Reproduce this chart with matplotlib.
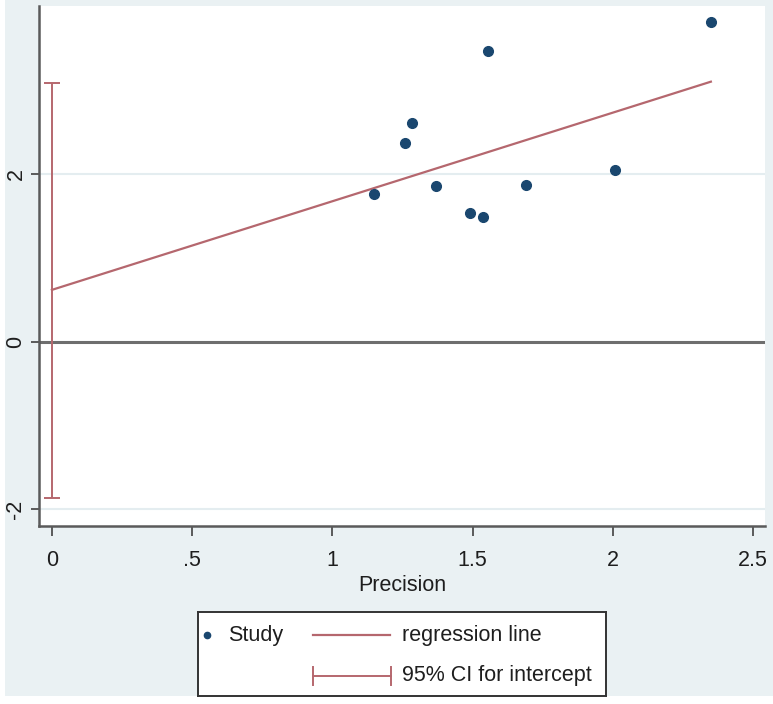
import matplotlib.pyplot as plt
from matplotlib.patches import Rectangle

# Egger's test: standardized effect vs precision
precision = [1.148, 1.259, 1.284, 1.369, 1.490, 1.537, 1.555, 1.690, 2.008, 2.350]
std_effect = [1.77, 2.37, 2.61, 1.86, 1.54, 1.49, 3.47, 1.87, 2.05, 3.82]

intercept = 0.62
slope = 1.058
ci_low, ci_high = -1.86, 3.09

x_ticks = [0, 0.5, 1, 1.5, 2, 2.5]
x_labels = ['0', '.5', '1', '1.5', '2', '2.5']
y_ticks = [-2, 0, 2]
y_labels = ['-2', '0', '2']

navy = '#1A476F'
maroon = '#B5676E'
bg = '#EAF1F3'
axis_col = '#5a5a5a'
txt_col = '#1e1e1e'
fs = 15.5

plt.rcParams['font.family'] = ['Liberation Sans', 'DejaVu Sans']

W, H = 773, 704
fig = plt.figure(figsize=(W / 100, H / 100), dpi=100, facecolor=bg)

# white margins at the left and bottom edge of the picture
fig.patches.append(Rectangle((0, 0), 5 / W, 1, transform=fig.transFigure,
                             facecolor='white', edgecolor='none', zorder=-5))
fig.patches.append(Rectangle((0, 0), 1, 8 / H, transform=fig.transFigure,
                             facecolor='white', edgecolor='none', zorder=-5))

ax = fig.add_axes([39 / W, 1 - 526 / H, (765 - 39) / W, (526 - 6) / H])
ax.set_facecolor('white')

ax.set_xlim(-0.046, 2.543)
ax.set_ylim(-2.20, 4.01)

# faint grid and zero line
for yv in y_ticks:
    ax.axhline(yv, color='#E4EDF0', lw=1.5, zorder=1)
ax.axhline(0, color='#6e6e6e', lw=2.2, zorder=2)

# regression line
xs = [0, max(precision)]
ax.plot(xs, [intercept + slope * v for v in xs], color=maroon, lw=1.6, zorder=3)

# CI for intercept
ax.errorbar([0], [(ci_low + ci_high) / 2], yerr=[[(ci_high - ci_low) / 2]],
            fmt='none', ecolor=maroon, elinewidth=1.4, capsize=6, capthick=1.4, zorder=3)

# studies
ax.plot(precision, std_effect, 'o', color=navy, ms=7, zorder=4)

for s in ['top', 'right']:
    ax.spines[s].set_visible(False)
for s in ['left', 'bottom']:
    ax.spines[s].set_color(axis_col)
    ax.spines[s].set_linewidth(1.8)

ax.set_xticks(x_ticks)
ax.set_xticklabels(x_labels)
ax.set_yticks(y_ticks)
ax.set_yticklabels(y_labels)
ax.tick_params(axis='x', length=7, width=1.4, color=axis_col, pad=10, labelsize=fs,
               labelcolor=txt_col)
ax.tick_params(axis='y', length=6, width=1.4, color=axis_col, pad=3, labelsize=fs,
               labelcolor=txt_col, labelrotation=90)
for lbl in ax.get_yticklabels():
    lbl.set_va('center')

ax.set_xlabel('Precision', fontsize=fs, color=txt_col, labelpad=3)

# legend box (drawn by hand, Stata style)
lx0, ly0, lx1, ly1 = 198, 612, 606, 696
lax = fig.add_axes([lx0 / W, 1 - ly1 / H, (lx1 - lx0) / W, (ly1 - ly0) / H])
lax.set_xlim(0, lx1 - lx0)
lax.set_ylim(ly1 - ly0, 0)
lax.set_xticks([])
lax.set_yticks([])
lax.set_facecolor('white')
for s in lax.spines.values():
    s.set_color('#333333')
    s.set_linewidth(1.4)

r1, r2 = 23, 64
lax.plot([9], [r1], 'o', color=navy, ms=4.5)
lax.text(30, r1, 'Study', fontsize=fs, va='center', color=txt_col)
lax.plot([115, 192], [r1, r1], color=maroon, lw=1.6)
lax.text(204, r1, 'regression line', fontsize=fs, va='center', color=txt_col)
lax.plot([115, 193], [r2, r2], color=maroon, lw=1.4)
lax.plot([115, 115], [r2 - 9, r2 + 9], color=maroon, lw=1.4)
lax.plot([193, 193], [r2 - 9, r2 + 9], color=maroon, lw=1.4)
lax.text(204, r2, '95% CI for intercept', fontsize=fs, va='center', color=txt_col)

fig.savefig('out.png', dpi=100, facecolor=bg)
